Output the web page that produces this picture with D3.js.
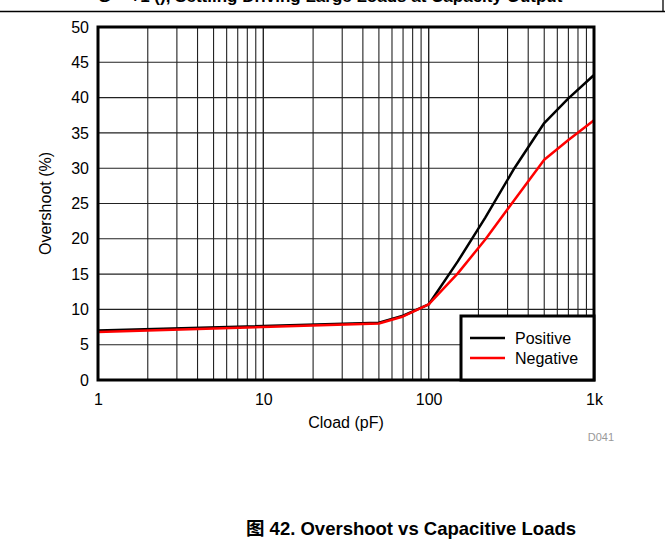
<!DOCTYPE html>
<html>
<head>
<meta charset="utf-8">
<script src="https://cdn.jsdelivr.net/npm/d3@7"></script>
<style>
  html, body { margin: 0; padding: 0; background: #fff; }
  svg { display: block; }
  text { font-family: "Liberation Sans", Arial, sans-serif; }
</style>
</head>
<body>
<svg id="chart" width="665" height="544"></svg>
<script>
// Overshoot vs capacitive load, positive and negative steps
const cload = [1, 50, 70, 100, 150, 220, 330, 500, 700, 1000];
const positive = [7.0, 8.1, 9.1, 10.7, 16.8, 23.0, 30.0, 36.4, 39.9, 43.2];
const negative = [6.8, 8.0, 9.0, 10.7, 15.1, 19.9, 25.5, 31.2, 34.0, 36.8];
const seriesNames = ["Positive", "Negative"];
const seriesColors = ["#000000", "#ff0000"];
const xTickValues = [1, 10, 100, 1000];
const xTickLabels = ["1", "10", "100", "1k"];
const yTickValues = [0, 5, 10, 15, 20, 25, 30, 35, 40, 45, 50];

const svg = d3.select("#chart");
const W = 665, H = 544;
const plot = { left: 98, top: 27, right: 594, bottom: 380 };

const x = d3.scaleLog().domain([1, 1000]).range([plot.left, plot.right]);
const y = d3.scaleLinear().domain([0, 50]).range([plot.bottom, plot.top]);

// header strip: title running off the top edge, rule beneath it
svg.append("text")
  .attr("x", 330).attr("y", 2)
  .attr("text-anchor", "middle")
  .style("font-size", "17px").style("font-weight", "bold")
  .text("G = +1 (), Settling Driving Large Loads at Capacity Output");
svg.append("line")
  .attr("x1", 0).attr("x2", W).attr("y1", 11.5).attr("y2", 11.5)
  .attr("stroke", "#000").attr("stroke-width", 1.3);
svg.append("line")
  .attr("x1", 663).attr("x2", 663).attr("y1", 0).attr("y2", 11.5)
  .attr("stroke", "#000").attr("stroke-width", 1.3);

// grid: log minor verticals and every-5 horizontals
const minorX = [];
for (let d = 1; d < 1000; d *= 10) {
  for (let m = 1; m <= 10; m++) minorX.push(d * m);
}
const grid = svg.append("g").attr("stroke", "#222").attr("stroke-width", 1.1);
grid.selectAll("line.v").data(minorX).join("line")
  .attr("class", "v")
  .attr("x1", d => x(d)).attr("x2", d => x(d))
  .attr("y1", plot.top).attr("y2", plot.bottom);
grid.selectAll("line.h").data(yTickValues).join("line")
  .attr("class", "h")
  .attr("x1", plot.left).attr("x2", plot.right)
  .attr("y1", d => y(d)).attr("y2", d => y(d));

// tick labels via d3 axes (domain hidden, frame drawn separately)
const xAxis = d3.axisBottom(x).tickValues(xTickValues)
  .tickFormat((d, i) => xTickLabels[i]).tickSize(0).tickPadding(14);
const gx = svg.append("g").attr("transform", `translate(0,${plot.bottom})`).call(xAxis);
gx.select(".domain").remove();
gx.selectAll("text").style("font-size", "16px").attr("fill", "#000")
  .style("font-family", "'Liberation Sans', Arial, sans-serif");

const yAxis = d3.axisLeft(y).tickValues(yTickValues).tickSize(0).tickPadding(9);
const gy = svg.append("g").attr("transform", `translate(${plot.left},0)`).call(yAxis);
gy.select(".domain").remove();
gy.selectAll("text").style("font-size", "16px").attr("fill", "#000")
  .style("font-family", "'Liberation Sans', Arial, sans-serif");

// series lines
const rows = cload.map((c, i) => ({ c, p: positive[i], n: negative[i] }));
const line = key => d3.line().x(d => x(d.c)).y(d => y(d[key]));
svg.append("path").datum(rows)
  .attr("d", line("p")).attr("fill", "none")
  .attr("stroke", seriesColors[0]).attr("stroke-width", 2.5).attr("stroke-linejoin", "round");
svg.append("path").datum(rows)
  .attr("d", line("n")).attr("fill", "none")
  .attr("stroke", seriesColors[1]).attr("stroke-width", 2.5).attr("stroke-linejoin", "round");

// plot frame
svg.append("rect")
  .attr("x", plot.left).attr("y", plot.top)
  .attr("width", plot.right - plot.left).attr("height", plot.bottom - plot.top)
  .attr("fill", "none").attr("stroke", "#000").attr("stroke-width", 3);

// legend
const lg = { x: 461, y: 316, w: plot.right - 461, h: plot.bottom - 316 };
svg.append("rect")
  .attr("x", lg.x).attr("y", lg.y).attr("width", lg.w).attr("height", lg.h)
  .attr("fill", "#fff").attr("stroke", "#000").attr("stroke-width", 3);
seriesNames.forEach((name, i) => {
  const yy = lg.y + 22 + i * 20;
  svg.append("line")
    .attr("x1", lg.x + 9).attr("x2", lg.x + 44).attr("y1", yy).attr("y2", yy)
    .attr("stroke", seriesColors[i]).attr("stroke-width", 2.5);
  svg.append("text")
    .attr("x", lg.x + 54).attr("y", yy + 6)
    .style("font-size", "16px").text(name);
});

// axis titles
svg.append("text")
  .attr("x", (plot.left + plot.right) / 2).attr("y", 428)
  .attr("text-anchor", "middle").style("font-size", "16px")
  .text("Cload (pF)");
svg.append("text")
  .attr("transform", `translate(51,${(plot.top + plot.bottom) / 2}) rotate(-90)`)
  .attr("text-anchor", "middle").style("font-size", "16px")
  .text("Overshoot (%)");
svg.append("text")
  .attr("x", 614).attr("y", 441)
  .attr("text-anchor", "end").style("font-size", "11px").attr("fill", "#999")
  .text("D041");

// figure caption
svg.append("text")
  .attr("x", 411).attr("y", 535)
  .attr("text-anchor", "middle").style("font-size", "18.5px").style("font-weight", "bold")
  .style("font-family", "'Liberation Sans', 'Noto Sans CJK SC', Arial, sans-serif")
  .text("图 42. Overshoot vs Capacitive Loads");
</script>
</body>
</html>
